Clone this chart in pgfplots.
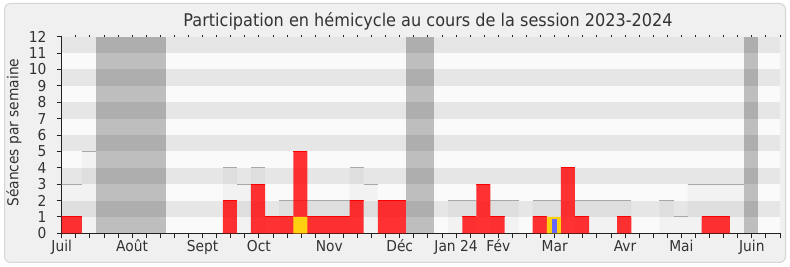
\documentclass[border=0pt]{standalone}
\usepackage{fontspec}
\setmainfont{DejaVu Sans}[FakeStretch=0.92]
\usepackage{pgfplots}
\pgfplotsset{compat=1.18}
\definecolor{bandw}{HTML}{FAFAFA}
\definecolor{bandg}{HTML}{E6E6E6}
\definecolor{framebg}{HTML}{F0F0F0}
\definecolor{frameline}{HTML}{D6D6D6}
\definecolor{txt}{HTML}{333333}
\definecolor{axisc}{HTML}{222222}
\definecolor{redbar}{HTML}{FF0000}
\definecolor{yell}{HTML}{FFD00F}
\definecolor{blu}{HTML}{6666FF}
\definecolor{ovline}{HTML}{A8A8A8}
\begin{document}
\begin{tikzpicture}[x=1pt,y=1pt]
\path[use as bounding box, fill=white] (0,0) rectangle (790,267);
\fill[framebg, draw=frameline, line width=1pt, rounded corners=6pt] (4.5,4.5) rectangle (785.5,263.5);
\node[txt, anchor=base, inner sep=0pt, font=\fontsize{17.5}{20}\selectfont] at (428,240.3) {Participation en hémicycle au cours de la session 2023-2024};
\node[txt, anchor=base, inner sep=0pt, rotate=90, font=\fontsize{15}{18}\selectfont] at (18.3,134.4) {Séances par semaine};
\begin{axis}[at={(61.7pt,33.7pt)}, anchor=south west, scale only axis,
  width=718.6pt, height=196.6pt,
  xmin=-0.44, xmax=50.58, ymin=0, ymax=12,
  axis x line*=bottom, axis y line*=left,
  axis line style={-, axisc, line width=0.9pt},
  tick align=outside, major tick length=5pt,
  tick style={axisc, line width=0.9pt},
  /pgf/number format/assume math mode=true,
  xtick={-0.44,0.56,...,50.6}, xticklabels={},
  extra x ticks={-0.44,4.56,9.56,13.56,18.56,23.56,27.56,30.56,34.56,39.56,43.56,48.56},
  extra x tick labels={Juil,Août,Sept,Oct,Nov,Déc,Jan 24,Fév,Mar,Avr,Mai,Juin},
  extra x tick style={tick style={axisc, line width=0.9pt}},
  xticklabel style={font=\fontsize{15}{18}\selectfont, text=txt, inner sep=0pt, anchor=base, yshift=-13pt},
  ytick={0,1,...,12},
  yticklabel style={font=\fontsize{15}{18}\selectfont, text=txt, inner sep=0pt, anchor=east, xshift=-10pt},
  clip=true,
]
% background bands
\fill[bandw] (axis cs:-0.44,0) rectangle (axis cs:50.58,12);
\foreach \b in {1,3,5,7,9,11}{
  \edef\tmp{\noexpand\fill[bandg] (axis cs:-0.44,\b) rectangle (axis cs:50.58,\b+1);}\tmp
}
% vacation columns
\addplot[ybar, bar width=5, bar shift=0, fill=black, fill opacity=0.24, draw=none] coordinates {(4.5,12)};
\addplot[ybar, bar width=2, bar shift=0, fill=black, fill opacity=0.24, draw=none] coordinates {(25,12)};
\addplot[ybar, bar width=1, bar shift=0, fill=black, fill opacity=0.24, draw=none] coordinates {(48.5,12)};
% reference level boxes
\addplot[ybar, bar width=1, bar shift=0, fill=black, fill opacity=0.03, draw=none] coordinates {
 (-0.5,3) (0.5,3) (1.5,5) (11.5,4) (12.5,3) (13.5,4) (15.5,2) (17.5,2) (18.5,2) (19.5,2)
 (20.5,4) (21.5,3) (27.5,2) (28.5,2) (30.5,2) (31.5,2) (33.5,2) (34.5,2) (36.5,2) (37.5,2)
 (38.5,2) (39.5,2) (42.5,2) (43.5,1) (44.5,3) (45.5,3) (46.5,3) (47.5,3)};
\addplot[ovline, line width=1pt, unbounded coords=jump, mark=none] coordinates {
 (-1,3) (1,3) (1,nan) (1,5) (2,5) (2,nan) (11,4) (12,4) (12,nan) (12,3) (13,3) (13,nan)
 (13,4) (14,4) (14,nan) (15,2) (20,2) (20,nan) (20,4) (21,4) (21,nan) (21,3) (22,3) (22,nan)
 (27,2) (29,2) (29,nan) (30,2) (32,2) (32,nan) (33,2) (35,2) (35,nan) (36,2) (40,2) (40,nan)
 (42,2) (43,2) (43,nan) (43,1) (44,1) (44,nan) (44,3) (48,3)};
% red bars
\addplot[ybar, bar width=1, bar shift=0, fill=redbar, fill opacity=0.8, draw=none] coordinates {
 (-0.5,1) (0.5,1) (11.5,2) (13.5,3) (14.5,1) (15.5,1) (16.5,5) (17.5,1) (18.5,1) (19.5,1)
 (20.5,2) (22.5,2) (23.5,2) (28.5,1) (29.5,3) (30.5,1) (33.5,1) (35.5,4) (36.5,1) (39.5,1)
 (45.5,1) (46.5,1)};
\addplot[redbar, line width=0.9pt, unbounded coords=jump, mark=none] coordinates {
 (-1,1) (1,1) (1,nan) (11,2) (12,2) (12,nan) (13,3) (14,3) (14,nan) (14,1) (16,1) (16,nan)
 (16,5) (17,5) (17,nan) (17,1) (20,1) (20,nan) (20,2) (21,2) (21,nan) (22,2) (24,2) (24,nan)
 (28,1) (29,1) (29,nan) (29,3) (30,3) (30,nan) (30,1) (31,1) (31,nan) (33,1) (34,1) (34,nan)
 (35,4) (36,4) (36,nan) (36,1) (37,1) (37,nan) (39,1) (40,1) (40,nan) (45,1) (47,1)};
% yellow and blue
\addplot[ybar, bar width=1, bar shift=0, fill=yell, draw=none] coordinates {(16.5,1) (34.5,1)};
\addplot[ybar, bar width=0.36, bar shift=0, fill=blu, draw=none] coordinates {(34.55,0.87)};
\end{axis}
\begin{axis}[at={(61.7pt,33.7pt)}, anchor=south west, scale only axis,
  width=718.6pt, height=196.6pt,
  xmin=-0.44, xmax=50.58, ymin=0, ymax=12,
  axis x line*=top, axis y line=none,
  axis line style={draw=none},
  tick align=outside, major tick length=1.5pt,
  tick style={axisc, line width=0.9pt},
  xtick={0.56,1.56,...,50.6}, xticklabels={}, ytick=\empty,
]
\end{axis}
\end{tikzpicture}
\end{document}
